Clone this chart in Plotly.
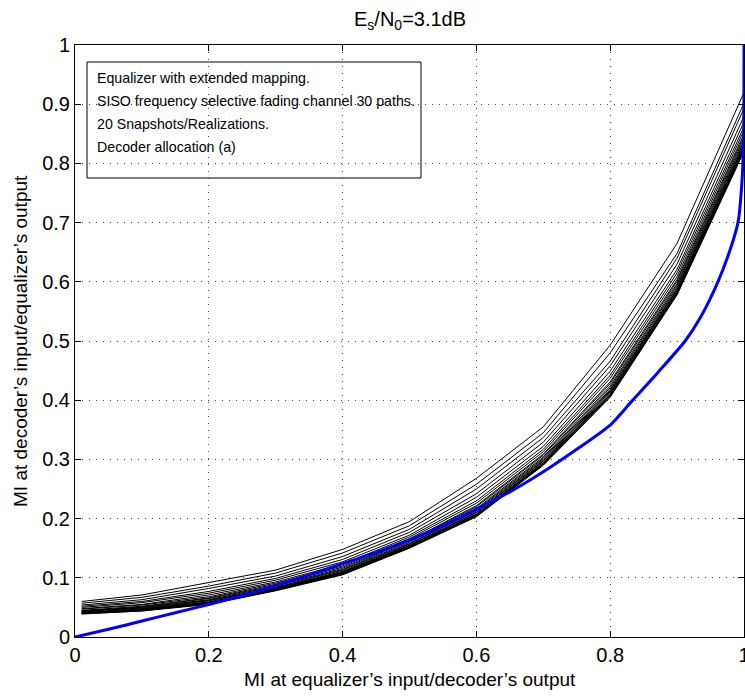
import plotly.graph_objects as go

# ---- data ----
X_EQ = [0.01, 0.1, 0.2, 0.3, 0.4, 0.5, 0.6, 0.7, 0.8, 0.9, 1.0]

snap01 = [0.060, 0.071, 0.092, 0.113, 0.148, 0.195, 0.268, 0.355, 0.493, 0.665, 0.920]
snap02 = [0.057, 0.067, 0.086, 0.108, 0.142, 0.188, 0.258, 0.345, 0.480, 0.648, 0.902]
snap03 = [0.054, 0.063, 0.082, 0.103, 0.136, 0.182, 0.250, 0.337, 0.466, 0.640, 0.893]
snap04 = [0.052, 0.060, 0.077, 0.099, 0.131, 0.177, 0.242, 0.329, 0.458, 0.630, 0.880]
snap05 = [0.050, 0.058, 0.074, 0.096, 0.127, 0.172, 0.236, 0.322, 0.449, 0.621, 0.870]
snap06 = [0.048, 0.055, 0.071, 0.093, 0.123, 0.169, 0.230, 0.317, 0.442, 0.615, 0.862]
snap07 = [0.047, 0.054, 0.068, 0.091, 0.120, 0.166, 0.226, 0.313, 0.437, 0.609, 0.856]
snap08 = [0.045, 0.052, 0.066, 0.089, 0.118, 0.163, 0.222, 0.309, 0.431, 0.604, 0.850]
snap09 = [0.044, 0.051, 0.065, 0.087, 0.116, 0.162, 0.220, 0.307, 0.428, 0.601, 0.846]
snap10 = [0.044, 0.050, 0.063, 0.086, 0.114, 0.160, 0.217, 0.304, 0.424, 0.597, 0.842]
snap11 = [0.043, 0.049, 0.062, 0.084, 0.113, 0.158, 0.215, 0.302, 0.421, 0.594, 0.838]
snap12 = [0.042, 0.048, 0.061, 0.083, 0.111, 0.157, 0.213, 0.300, 0.418, 0.591, 0.835]
snap13 = [0.042, 0.047, 0.059, 0.082, 0.110, 0.155, 0.211, 0.298, 0.416, 0.588, 0.832]
snap14 = [0.041, 0.047, 0.059, 0.082, 0.109, 0.155, 0.210, 0.297, 0.414, 0.587, 0.830]
snap15 = [0.041, 0.046, 0.058, 0.081, 0.108, 0.154, 0.208, 0.295, 0.412, 0.585, 0.828]
snap16 = [0.040, 0.046, 0.057, 0.080, 0.108, 0.153, 0.207, 0.294, 0.410, 0.583, 0.826]
snap17 = [0.040, 0.045, 0.056, 0.079, 0.107, 0.152, 0.206, 0.293, 0.409, 0.581, 0.824]
snap18 = [0.040, 0.045, 0.056, 0.079, 0.106, 0.151, 0.205, 0.292, 0.408, 0.581, 0.823]
snap19 = [0.039, 0.044, 0.056, 0.079, 0.106, 0.151, 0.204, 0.291, 0.406, 0.579, 0.822]
snap20 = [0.039, 0.044, 0.055, 0.078, 0.105, 0.150, 0.203, 0.290, 0.405, 0.578, 0.820]

SNAPSHOTS = [snap01, snap02, snap03, snap04, snap05, snap06, snap07, snap08, snap09, snap10,
             snap11, snap12, snap13, snap14, snap15, snap16, snap17, snap18, snap19, snap20]

DEC_X = [0, 0.05, 0.1, 0.15, 0.2, 0.25, 0.3, 0.35, 0.4, 0.45, 0.5, 0.55, 0.6, 0.65, 0.7,
         0.75, 0.8, 0.832, 0.873, 0.912, 0.935, 0.961, 0.978, 0.991, 0.997, 0.9995, 1.0]
DEC_Y = [0, 0.013, 0.027, 0.041, 0.055, 0.070, 0.087, 0.105, 0.124, 0.143, 0.164, 0.188,
         0.216, 0.245, 0.279, 0.317, 0.358, 0.398, 0.449, 0.500, 0.540, 0.600, 0.650,
         0.700, 0.770, 0.850, 1.000]

X_TICKS = [0, 0.2, 0.4, 0.6, 0.8, 1.0]
X_TICK_TEXT = ["0", "0.2", "0.4", "0.6", "0.8", "1"]
Y_TICKS = [0, 0.1, 0.2, 0.3, 0.4, 0.5, 0.6, 0.7, 0.8, 0.9, 1.0]
Y_TICK_TEXT = ["0", "0.1", "0.2", "0.3", "0.4", "0.5", "0.6", "0.7", "0.8", "0.9", "1"]

TITLE = "E<sub>s</sub>/N<sub>0</sub>=3.1dB"
X_LABEL = "MI at equalizer\u2019s input/decoder\u2019s output"
Y_LABEL = "MI at decoder\u2019s input/equalizer\u2019s output"
INFO_LINES = ["Equalizer with extended mapping.",
              "SISO frequency selective fading channel 30 paths.",
              "20 Snapshots/Realizations.",
              "Decoder allocation (a)"]

# ---- layout geometry (page pixels; page margin is removed below) ----
W, H = 745, 698
PLOT_L, PLOT_T, PW, PH = 75, 45, 669, 592
L, T = PLOT_L, PLOT_T
R = W - (L + PW)
B = H - (T + PH)
FONT = "Liberation Sans, Arial, Helvetica, sans-serif"


def px_x(px):
    return (px - PLOT_L) / PW


def px_y(py):
    return (PLOT_T + PH - py) / PH


fig = go.Figure()
for s in SNAPSHOTS:
    fig.add_trace(go.Scatter(x=X_EQ, y=s, mode="lines",
                             line=dict(color="black", width=1), showlegend=False,
                             hoverinfo="skip"))
fig.add_trace(go.Scatter(x=DEC_X, y=DEC_Y, mode="lines",
                         line=dict(color="rgb(0,0,255)", width=3, shape="spline",
                                   smoothing=0.6),
                         showlegend=False))

axis_common = dict(range=[0, 1], showline=True, linecolor="black", linewidth=1,
                   mirror="allticks", ticks="inside", ticklen=6, tickcolor="black",
                   showgrid=True, gridcolor="#444", gridwidth=1, griddash="1px,6px",
                   zeroline=False, ticklabeloverflow="allow",
                   tickfont=dict(family=FONT, size=20, color="black"))

fig.update_xaxes(tickvals=X_TICKS, ticktext=X_TICK_TEXT, **axis_common)
fig.update_yaxes(tickvals=Y_TICKS, ticktext=Y_TICK_TEXT, **axis_common)

annotations = [
    dict(text=TITLE, xref="paper", yref="paper", x=0.5, y=1, yshift=25,
         xanchor="center", yanchor="middle", showarrow=False,
         font=dict(family=FONT, size=20, color="black")),
    dict(text=X_LABEL, xref="paper", yref="paper", x=0.5, y=0, yshift=-42,
         xanchor="center", yanchor="middle", showarrow=False,
         font=dict(family=FONT, size=19, color="black")),
    dict(text=Y_LABEL, xref="paper", yref="paper", x=0, y=0.5, xshift=-55,
         xanchor="center", yanchor="middle", textangle=-90, showarrow=False,
         font=dict(family=FONT, size=19, color="black")),
]
line_centers = [78, 101, 124, 147]
for txt, cy in zip(INFO_LINES, line_centers):
    annotations.append(dict(text=txt, xref="paper", yref="paper", x=px_x(95), y=px_y(cy),
                            xanchor="left", yanchor="middle", showarrow=False,
                            font=dict(family=FONT, size=14.2, color="black")))

shapes = [dict(type="rect", xref="paper", yref="paper",
               x0=px_x(87), x1=px_x(421), y0=px_y(178), y1=px_y(62),
               line=dict(color="black", width=1), fillcolor="white", layer="below")]

fig.update_layout(width=W, height=H, margin=dict(l=L, r=R, t=T, b=B, autoexpand=False),
                  paper_bgcolor="white", plot_bgcolor="white",
                  annotations=annotations, shapes=shapes, showlegend=False)

# remove the browser's default 8 px body margin so the figure fills the window
fig.write_html("out.html",
               config={"displayModeBar": False},
               post_script="document.body.style.margin='0';"
                           "document.documentElement.style.overflow='hidden';")
